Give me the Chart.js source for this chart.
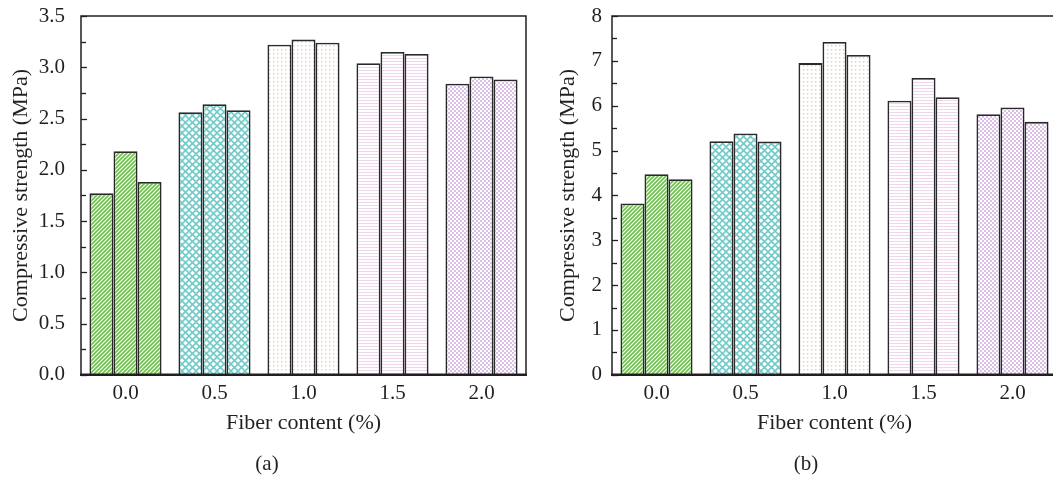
<!DOCTYPE html>
<html>
<head>
<meta charset="utf-8">
<script src="https://cdn.jsdelivr.net/npm/chart.js@4.4.0/dist/chart.umd.min.js"></script>
<style>
  html, body { margin: 0; padding: 0; background: #fff; overflow: hidden; }
  #wrap { position: relative; width: 1053px; height: 477px; overflow: hidden; }
  canvas { position: absolute; top: 0; }
  #chart-a { left: 0; }
  #chart-b { left: 530px; }
</style>
</head>
<body>
<div id="wrap">
  <canvas id="chart-a" width="530" height="477"></canvas>
  <canvas id="chart-b" width="527" height="477"></canvas>
</div>
<script>
// Compressive strength vs fiber content, panels (a) and (b)

const fiber = ["0.0", "0.5", "1.0", "1.5", "2.0"];

// panel (a), three specimens per fiber content
const strengthA1 = [1.77, 2.56, 3.22, 3.04, 2.84];
const strengthA2 = [2.18, 2.64, 3.27, 3.15, 2.91];
const strengthA3 = [1.88, 2.58, 3.24, 3.13, 2.88];

// panel (b)
const strengthB1 = [3.82, 5.21, 6.95, 6.11, 5.81];
const strengthB2 = [4.47, 5.38, 7.42, 6.62, 5.96];
const strengthB3 = [4.36, 5.20, 7.13, 6.19, 5.64];

const ticksA = [0, 0.5, 1, 1.5, 2, 2.5, 3, 3.5];
const ticksB = [0, 1, 2, 3, 4, 5, 6, 7, 8];

const ink = "#231f20";
Chart.defaults.font.family = "'Liberation Serif', 'Times New Roman', serif";
Chart.defaults.font.size = 21;
Chart.defaults.color = ink;

// ── Fill patterns, one per fiber content ──────────────────────

function tile(w, h, draw) {
  const c = document.createElement("canvas");
  c.width = w; c.height = h;
  const g = c.getContext("2d");
  g.fillStyle = "#fff";
  g.fillRect(0, 0, w, h);
  draw(g);
  return g.createPattern(c, "repeat");
}

const patterns = [
  // green diagonal hatch
  tile(4, 4, g => {
    g.strokeStyle = "#6cc04c";
    g.lineWidth = 1.6;
    [[-1, 5, 5, -1], [-1, 1, 1, -1], [3, 5, 5, 3]].forEach(([x1, y1, x2, y2]) => {
      g.beginPath(); g.moveTo(x1, y1); g.lineTo(x2, y2); g.stroke();
    });
  }),
  // cyan cross hatch
  tile(7, 7, g => {
    g.strokeStyle = "#72cbc8";
    g.lineWidth = 1.6;
    g.beginPath(); g.moveTo(0, 0); g.lineTo(7, 7); g.stroke();
    g.beginPath(); g.moveTo(0, 7); g.lineTo(7, 0); g.stroke();
  }),
  // sparse salmon dots
  tile(4, 4, g => {
    g.fillStyle = "#f7c0ac";
    g.fillRect(1, 1, 1.4, 1.4);
  }),
  // pale pink horizontal lines
  tile(3, 3, g => {
    g.fillStyle = "#efd6ec";
    g.fillRect(0, 1, 3, 1);
  }),
  // lilac checker
  tile(4, 4, g => {
    g.fillStyle = "#d9bfe4";
    g.fillRect(0, 0, 2, 2);
    g.fillRect(2, 2, 2, 2);
  }),
];

// ── Frame and inward ticks ────────────────────────────────────

const framePlugin = {
  id: "frame",
  afterDatasetsDraw(chart) {
    const { ctx, chartArea: a, scales: { y } } = chart;
    ctx.save();
    ctx.strokeStyle = ink;
    ctx.lineWidth = 1.3;
    y.ticks.forEach((t, i) => {
      const py = Math.round(y.getPixelForValue(t.value)) + 0.5;
      ctx.beginPath(); ctx.moveTo(a.left, py); ctx.lineTo(a.left + 6, py); ctx.stroke();
      const next = y.ticks[i + 1];
      if (next) {
        const my = Math.round(y.getPixelForValue((t.value + next.value) / 2)) + 0.5;
        ctx.beginPath(); ctx.moveTo(a.left, my); ctx.lineTo(a.left + 5, my); ctx.stroke();
      }
    });
    ctx.lineWidth = 1.5;
    ctx.strokeRect(a.left, a.top, a.right - a.left, a.bottom - a.top);
    ctx.lineWidth = 2.4;
    ctx.beginPath(); ctx.moveTo(a.left - 1, a.bottom); ctx.lineTo(a.right + 1, a.bottom); ctx.stroke();
    ctx.restore();
  },
};

// ── Chart builder ─────────────────────────────────────────────

function makeChart(id, series, yTicks, opts) {
  const datasets = series.map(values => ({
    data: values,
    backgroundColor: patterns,
    borderColor: "#2a2a2a",
    borderWidth: 1.8,
    categoryPercentage: 0.81,
    barPercentage: 1.0,
  }));

  return new Chart(document.getElementById(id), {
    type: "bar",
    data: { labels: fiber, datasets },
    plugins: [framePlugin],
    options: {
      responsive: false,
      animation: false,
      layout: { padding: { left: opts.padLeft, right: opts.padRight, top: 16, bottom: 0 } },
      plugins: {
        legend: { display: false },
        tooltip: { enabled: false },
        title: {
          display: true,
          position: "bottom",
          text: opts.panel,
          font: { size: 21, weight: "normal" },
          padding: { top: 2, bottom: 0 },
        },
      },
      scales: {
        x: {
          grid: { display: false, drawTicks: false },
          border: { display: false },
          ticks: { padding: 6 },
          title: {
            display: true,
            text: "Fiber content (%)",
            font: { size: 22 },
            padding: { top: 0, bottom: 13 },
          },
          afterFit: s => { s.height = 75; },
        },
        y: {
          min: 0,
          max: yTicks[yTicks.length - 1],
          grid: { display: false, drawTicks: false },
          border: { display: false },
          afterBuildTicks: s => { s.ticks = yTicks.map(v => ({ value: v })); },
          ticks: {
            padding: opts.labelPad,
            callback: v => opts.fmt(v),
          },
          title: {
            display: true,
            text: "Compressive strength (MPa)",
            font: { size: 22 },
            padding: { top: 0, bottom: 0 },
          },
          // tick padding would otherwise push the plot down
          afterFit: s => { s.width = opts.axisWidth; s.paddingTop = 0; s.paddingBottom = 0; },
        },
      },
    },
  });
}

makeChart("chart-a", [strengthA1, strengthA2, strengthA3], ticksA, {
  panel: "(a)", padLeft: 8, padRight: 4, axisWidth: 73, labelPad: 16,
  fmt: v => v.toFixed(1),
});

makeChart("chart-b", [strengthB1, strengthB2, strengthB3], ticksB, {
  panel: "(b)", padLeft: 25, padRight: 0, axisWidth: 57, labelPad: 10,
  fmt: v => String(v),
});
</script>
</body>
</html>
